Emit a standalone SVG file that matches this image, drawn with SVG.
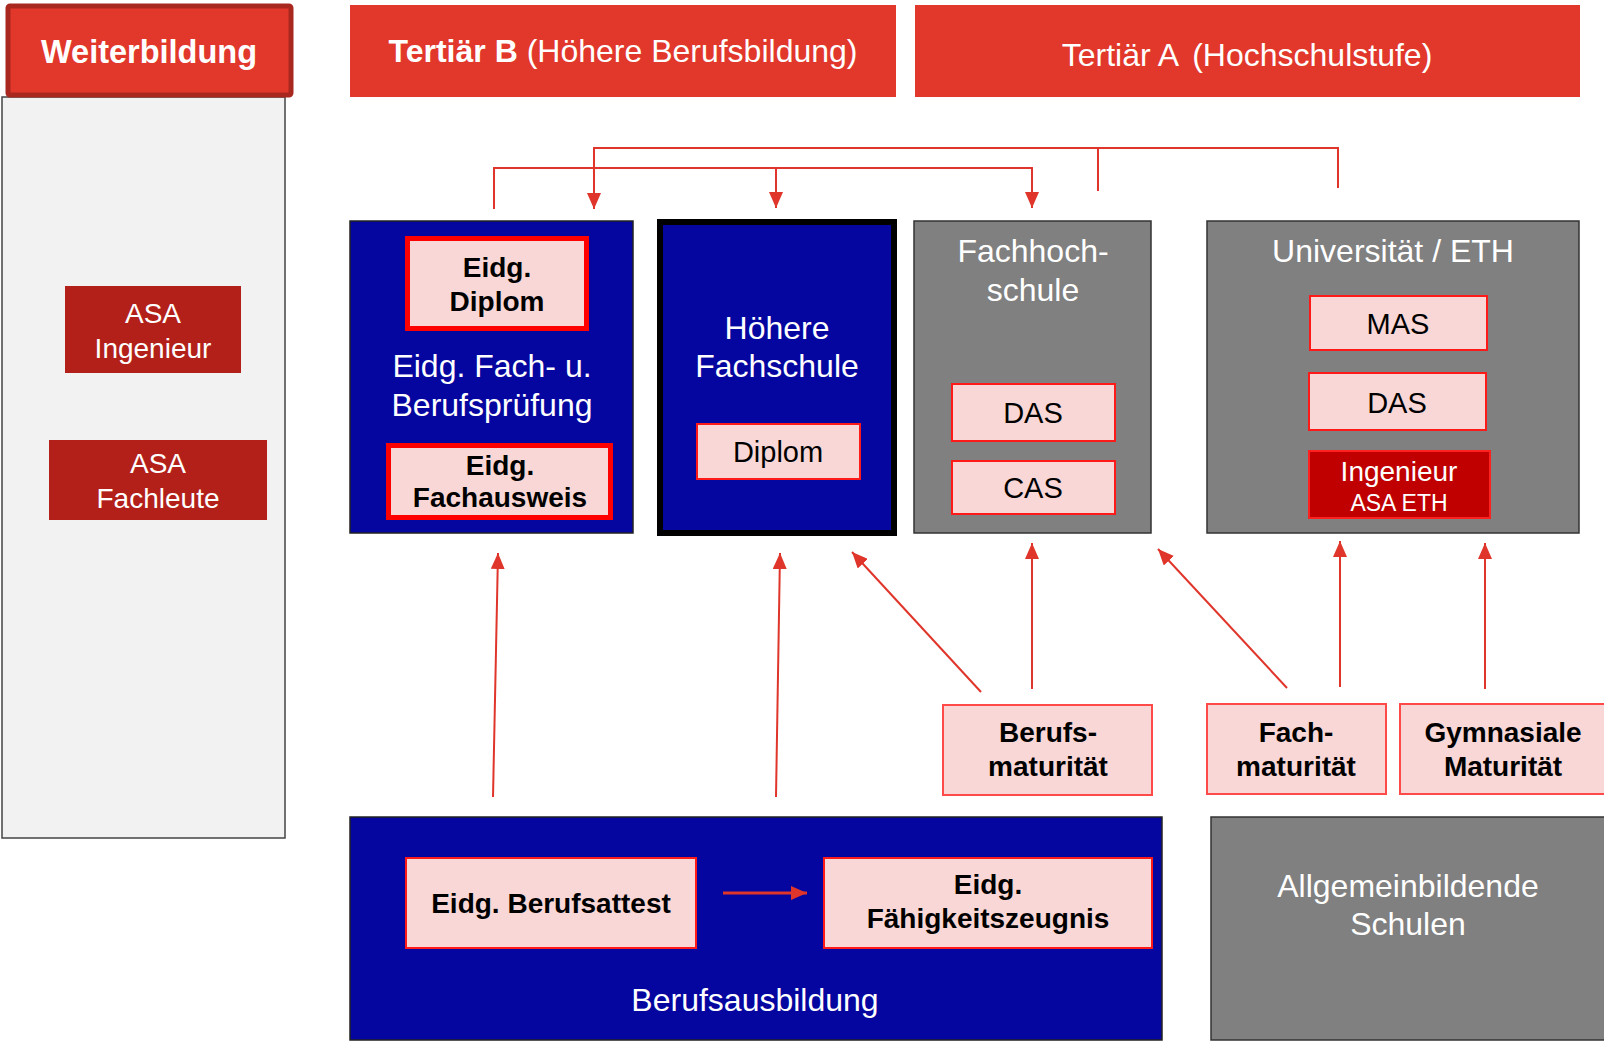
<svg xmlns="http://www.w3.org/2000/svg" width="1604" height="1045" viewBox="0 0 1604 1045">
<defs>
<style>
text{font-family:"Liberation Sans",Arial,sans-serif;text-anchor:middle}
.w{fill:#ffffff;font-size:32px}
.b{fill:#000000;font-size:28px;font-weight:bold}
.n{fill:#000000;font-size:29px}
.hdr{fill:#e2372b}
.blue{fill:#05059f;stroke:#222;stroke-width:1.5}
.gray{fill:#808080;stroke:#333;stroke-width:1.5}
.pink{fill:#f8d7d6;stroke:#ff1a1a;stroke-width:2}
.pinkT{fill:#f8d7d6;stroke:#ff0000;stroke-width:5}
.pinkL{fill:#f8d7d6;stroke:#ff4a4a;stroke-width:2}
.asa{fill:#b3201a}
.con{fill:none;stroke:#e0352a;stroke-width:2}
</style>
<marker id="ah" markerUnits="userSpaceOnUse" markerWidth="16" markerHeight="14" refX="16" refY="7" orient="auto">
<path d="M0,0 L16,7 L0,14 z" fill="#e0352a"/>
</marker>
</defs>
<rect width="1604" height="1045" fill="#ffffff"/>

<g id="weiterbildung-panel">
<rect x="2" y="97" width="283" height="741" fill="#f2f2f2" stroke="#444" stroke-width="1.5"/>
</g>
<g id="weiterbildung-header">
<rect x="8" y="6" width="283" height="89" rx="2" fill="#e2372b" stroke="#a82820" stroke-width="5"/>
<text x="149" y="63" style="fill:#fff;font-size:32.5px;font-weight:bold">Weiterbildung</text>
</g>
<g id="tertiaer-b-header">
<rect class="hdr" x="350" y="5" width="546" height="92"/>
<text x="623" y="62" style="fill:#fff;font-size:32px"><tspan font-weight="bold">Tertiär B</tspan> (Höhere Berufsbildung)</text>
</g>
<g id="tertiaer-a-header">
<rect class="hdr" x="915" y="5" width="665" height="92"/>
<text x="1247" y="66" style="fill:#fff;font-size:32px">Tertiär A <tspan dx="6">(Hochschulstufe)</tspan></text>
</g>

<g id="asa-ingenieur">
<rect class="asa" x="65" y="286" width="176" height="87"/>
<text class="w" x="153" y="323" style="font-size:28px">ASA</text>
<text class="w" x="153" y="358" style="font-size:28px">Ingenieur</text>
</g>
<g id="asa-fachleute">
<rect class="asa" x="49" y="440" width="218" height="80"/>
<text class="w" x="158" y="473" style="font-size:28px">ASA</text>
<text class="w" x="158" y="508" style="font-size:28px">Fachleute</text>
</g>

<g id="berufspruefung">
<rect class="blue" x="350" y="221" width="283" height="312"/>
<text class="w" x="492" y="377">Eidg. Fach- u.</text>
<text class="w" x="492" y="416">Berufsprüfung</text>
</g>
<g id="eidg-diplom">
<rect class="pinkT" x="407.5" y="238.5" width="179" height="90"/>
<text class="b" x="497" y="277">Eidg.</text>
<text class="b" x="497" y="311">Diplom</text>
</g>
<g id="eidg-fachausweis">
<rect class="pinkT" x="388.5" y="445.5" width="222" height="72"/>
<text class="b" x="500" y="475">Eidg.</text>
<text class="b" x="500" y="507">Fachausweis</text>
</g>

<g id="hoehere-fachschule">
<rect x="660" y="222" width="234" height="311" fill="#05059f" stroke="#000" stroke-width="6"/>
<text class="w" x="777" y="339">Höhere</text>
<text class="w" x="777" y="377">Fachschule</text>
</g>
<g id="hf-diplom">
<rect class="pink" x="697" y="424" width="163" height="55"/>
<text class="n" x="778" y="462">Diplom</text>
</g>

<g id="fachhochschule">
<rect class="gray" x="914" y="221" width="237" height="312"/>
<text class="w" x="1033" y="262">Fachhoch-</text>
<text class="w" x="1033" y="301">schule</text>
</g>
<g id="fh-das">
<rect class="pink" x="952" y="384" width="163" height="57"/>
<text class="n" x="1033" y="423">DAS</text>
</g>
<g id="fh-cas">
<rect class="pink" x="952" y="461" width="163" height="53"/>
<text class="n" x="1033" y="498">CAS</text>
</g>

<g id="universitaet">
<rect class="gray" x="1207" y="221" width="372" height="312"/>
<text class="w" x="1393" y="262">Universität / ETH</text>
</g>
<g id="uni-mas">
<rect class="pink" x="1310" y="296" width="177" height="54"/>
<text class="n" x="1398" y="334">MAS</text>
</g>
<g id="uni-das">
<rect class="pink" x="1309" y="373" width="177" height="57"/>
<text class="n" x="1397" y="413">DAS</text>
</g>
<g id="uni-ingenieur">
<rect x="1309" y="451" width="181" height="67" fill="#c00000" stroke="#ff2020" stroke-width="2"/>
<text class="w" x="1399" y="481" style="font-size:28px">Ingenieur</text>
<text class="w" x="1399" y="511" style="font-size:23px">ASA ETH</text>
</g>

<g id="berufsmaturitaet">
<rect class="pinkL" x="943" y="705" width="209" height="90"/>
<text class="b" x="1048" y="742">Berufs-</text>
<text class="b" x="1048" y="776">maturität</text>
</g>
<g id="fachmaturitaet">
<rect class="pinkL" x="1207" y="704" width="179" height="90"/>
<text class="b" x="1296" y="742">Fach-</text>
<text class="b" x="1296" y="776">maturität</text>
</g>
<g id="gymnasiale-maturitaet">
<rect class="pinkL" x="1400" y="704" width="214" height="90"/>
<text class="b" x="1503" y="742">Gymnasiale</text>
<text class="b" x="1503" y="776">Maturität</text>
</g>

<g id="berufsausbildung">
<rect class="blue" x="350" y="817" width="812" height="223"/>
<text class="w" x="755" y="1011">Berufsausbildung</text>
</g>
<g id="berufsattest">
<rect class="pink" x="406" y="858" width="290" height="90"/>
<text class="b" x="551" y="913">Eidg. Berufsattest</text>
</g>
<g id="faehigkeitszeugnis">
<rect class="pink" x="824" y="858" width="328" height="90"/>
<text class="b" x="988" y="894">Eidg.</text>
<text class="b" x="988" y="928">Fähigkeitszeugnis</text>
</g>

<g id="allgemeinbildende-schulen">
<rect class="gray" x="1211" y="817" width="400" height="223"/>
<text class="w" x="1408" y="897">Allgemeinbildende</text>
<text class="w" x="1408" y="935">Schulen</text>
</g>

<g id="connectors">
<polyline class="con" points="494,209 494,168 776,168"/>
<polyline class="con" points="776,168 1032,168 1032,208" marker-end="url(#ah)"/>
<line class="con" x1="776" y1="168" x2="776" y2="208" marker-end="url(#ah)"/>
<polyline class="con" points="1338,188 1338,148 594,148 594,209" marker-end="url(#ah)"/>
<line class="con" x1="1098" y1="148" x2="1098" y2="191"/>

<line class="con" x1="493" y1="797" x2="498" y2="553" marker-end="url(#ah)"/>
<line class="con" x1="776" y1="797" x2="780" y2="553" marker-end="url(#ah)"/>
<line class="con" x1="981" y1="692" x2="852" y2="552" marker-end="url(#ah)"/>
<line class="con" x1="1032" y1="689" x2="1032" y2="543" marker-end="url(#ah)"/>
<line class="con" x1="1287" y1="688" x2="1158" y2="549" marker-end="url(#ah)"/>
<line class="con" x1="1340" y1="687" x2="1340" y2="541" marker-end="url(#ah)"/>
<line class="con" x1="1485" y1="689" x2="1485" y2="543" marker-end="url(#ah)"/>
<line x1="723" y1="893" x2="807" y2="893" stroke="#e0352a" stroke-width="3" marker-end="url(#ah)"/>
</g>
</svg>
